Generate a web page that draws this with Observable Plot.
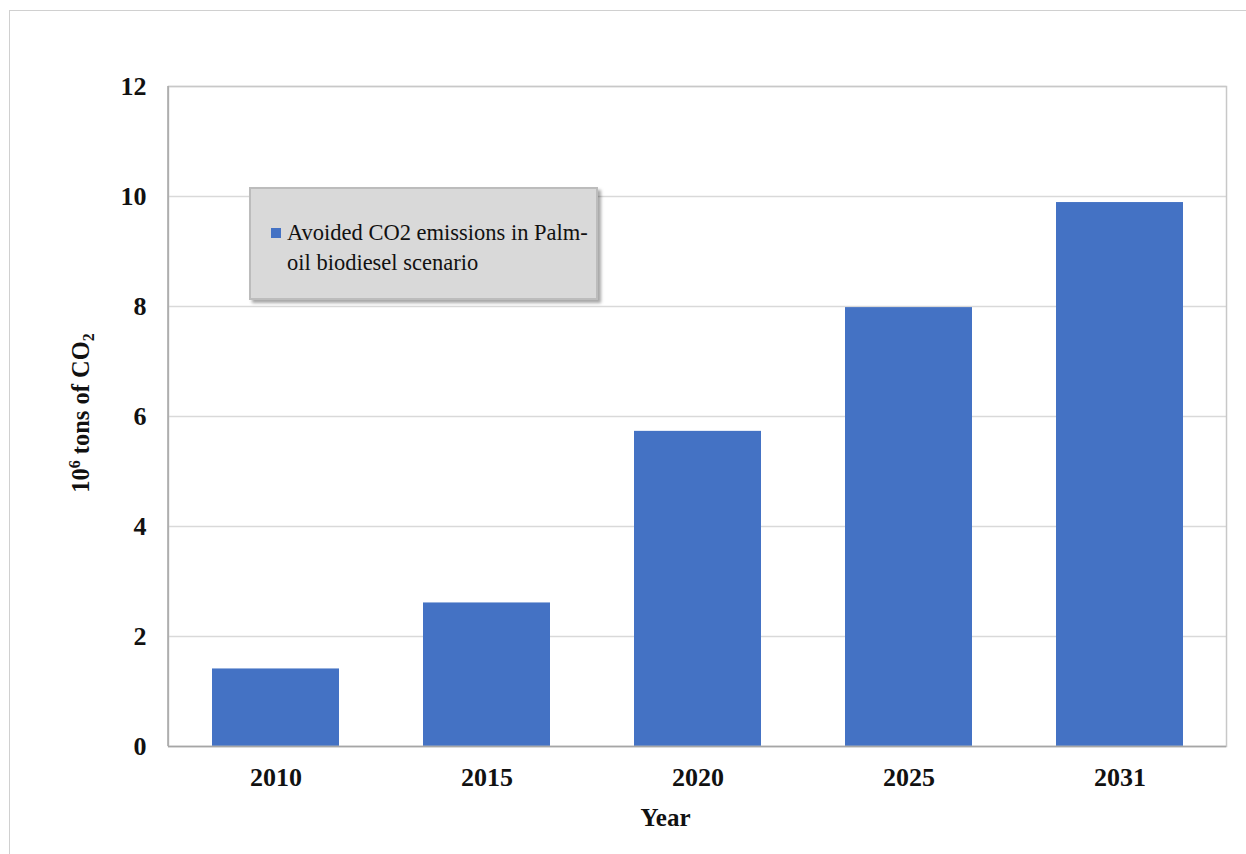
<!DOCTYPE html>
<html>
<head>
<meta charset="utf-8">
<script src="https://cdn.jsdelivr.net/npm/d3@7"></script>
<script src="https://cdn.jsdelivr.net/npm/@observablehq/plot@0.6"></script>
<style>
  html, body { margin: 0; padding: 0; background: #fff; overflow: hidden; }
  #wrap { position: relative; width: 1246px; height: 854px; }
  #outer { position: absolute; left: 9px; top: 10px; width: 1300px; height: 900px; border: 1px solid #d0d0d0; box-sizing: border-box; }
  #legend {
    position: absolute; left: 249px; top: 187px; width: 349px; height: 113px;
    box-sizing: border-box; background: #d9d9d9; border: 2px solid #bcbcbc;
    box-shadow: 3px 3px 3px rgba(0,0,0,0.35);
    font-family: "Liberation Serif", "Times New Roman", serif; font-size: 22.5px; color: #111;
  }
  #legend .sw { position: absolute; left: 20px; top: 39px; width: 10px; height: 10px; background: #4472c4; }
  #legend .tx { position: absolute; left: 36px; top: 29px; width: 310px; line-height: 30px; }
  svg { position: absolute; left: 0; top: 0; }
</style>
</head>
<body>
<div id="wrap">
  <div id="outer"></div>
  <div id="chart"></div>
  <div id="legend"><div class="sw"></div><div class="tx">Avoided CO2 emissions in Palm-<br>oil biodiesel scenario</div></div>
</div>
<script>
const years = ["2010", "2015", "2020", "2025", "2031"];
const avoided = [1.41, 2.61, 5.73, 7.98, 9.89];
const yTicks = [0, 2, 4, 6, 8, 10, 12];
const seriesName = "Avoided CO2 emissions in Palm-oil biodiesel scenario";
const xTitle = "Year";

const data = years.map((y, i) => ({year: y, value: avoided[i]}));

const chart = Plot.plot({
  width: 1246,
  height: 854,
  marginLeft: 168,
  marginRight: 20,
  marginTop: 86,
  marginBottom: 108,
  style: {fontFamily: "'Liberation Serif', 'Times New Roman', serif", background: "transparent", overflow: "visible"},
  x: {domain: years, paddingInner: 0.4, paddingOuter: 0.2, label: null},
  y: {domain: [0, 12], ticks: yTicks, label: null},
  marks: [
    Plot.gridY(yTicks, {stroke: "#d9d9d9", strokeOpacity: 1, strokeWidth: 1.5}),
    Plot.barY(data, {x: "year", y: "value", fill: "#4472c4"}),
    Plot.frame({stroke: "#c8c8c8", strokeWidth: 1.5}),
    Plot.ruleY([0], {stroke: "#a6a6a6", strokeWidth: 1.5}),
    Plot.axisY(yTicks, {tickSize: 0, tickPadding: 22, tickFormat: d3.format("d"), fontSize: 26, fontWeight: "bold", fill: "#111", label: null}),
    Plot.axisX({tickSize: 0, tickPadding: 21, fontSize: 26, fontWeight: "bold", fill: "#111", label: null}),
    Plot.text([xTitle], {frameAnchor: "bottom", dx: -32, dy: 79, fontSize: 25, fontWeight: "bold", fill: "#111"})
  ]
});

const svg = d3.select(chart);
document.getElementById("chart").appendChild(chart);

// y-axis title with superscript/subscript
const yt = svg.append("text")
  .attr("transform", "translate(89,413) rotate(-90)")
  .attr("text-anchor", "middle")
  .attr("font-family", "'Liberation Serif', 'Times New Roman', serif")
  .attr("font-size", 24.5)
  .attr("font-weight", "bold")
  .attr("fill", "#111");
yt.append("tspan").text("10");
yt.append("tspan").attr("font-size", 16).attr("dy", -9).text("6");
yt.append("tspan").attr("dy", 9).text(" tons of CO");
yt.append("tspan").attr("font-size", 16).attr("dy", 5).text("2");

// left axis line
const yr = chart.scale("y").range;
svg.append("line")
  .attr("x1", 168).attr("x2", 168)
  .attr("y1", yr[0]).attr("y2", yr[1])
  .attr("stroke", "#a6a6a6").attr("stroke-width", 1.5);
</script>
</body>
</html>
